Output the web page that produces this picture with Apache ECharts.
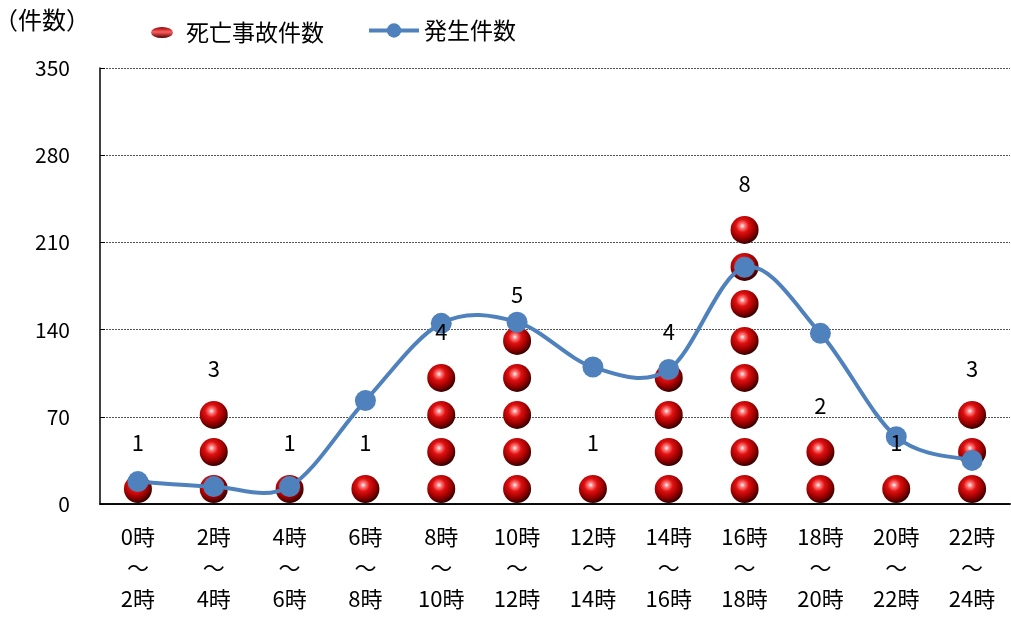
<!DOCTYPE html>
<html><head><meta charset="utf-8">
<script src="https://cdn.jsdelivr.net/npm/echarts@6/dist/echarts.min.js"></script>
<style>html,body{margin:0;padding:0;background:#fff}#c{width:1011px;height:623px}</style>
</head><body><div id="c"></div>
<script>
const categories = ['0時\n～\n2時','2時\n～\n4時','4時\n～\n6時','6時\n～\n8時','8時\n～\n10時','10時\n～\n12時','12時\n～\n14時','14時\n～\n16時','16時\n～\n18時','18時\n～\n20時','20時\n～\n22時','22時\n～\n24時'];
const fatalCounts = [1,3,1,1,4,5,1,4,8,2,1,3];
const occurrences = [18,14,14,83,145,146,110,108,190,137,54,35];
const yTicks = {min:0, max:350, interval:70};

const FONT = '"Noto Sans CJK JP", sans-serif';
const BLUE = '#4f81bd';
const sphere = {
  type:'radial', x:0.42, y:0.36, r:0.66,
  colorStops:[
    {offset:0, color:'#ffffff'},
    {offset:0.13, color:'#ff8080'},
    {offset:0.35, color:'#e01010'},
    {offset:0.68, color:'#990000'},
    {offset:1, color:'#2a0000'}
  ]
};
// Catmull-Rom style smooth curve (like spreadsheet smoothing) through the points, via the axis scales
function smoothPath(api) {
  const pts = occurrences.map((v, i) => api.coord([i, v]));
  let d = 'M' + pts[0][0] + ' ' + pts[0][1];
  for (let i = 0; i < pts.length - 1; i++) {
    const p0 = pts[Math.max(i - 1, 0)], p1 = pts[i], p2 = pts[i + 1], p3 = pts[Math.min(i + 2, pts.length - 1)];
    const c1 = [p1[0] + (p2[0] - p0[0]) / 6, p1[1] + (p2[1] - p0[1]) / 6];
    const c2 = [p2[0] - (p3[0] - p1[0]) / 6, p2[1] - (p3[1] - p1[1]) / 6];
    d += ' C' + c1[0] + ' ' + c1[1] + ' ' + c2[0] + ' ' + c2[1] + ' ' + p2[0] + ' ' + p2[1];
  }
  return d;
}
const chart = echarts.init(document.getElementById('c'), null, {renderer:'canvas'});
chart.setOption({
  animation:false,
  textStyle:{fontFamily:FONT},
  graphic:[{type:'text', left:-6, top:8, style:{text:'（件数）', font:'24px '+FONT, fill:'#000'}}],
  legend:[
    {left:146, top:16, itemWidth:38, itemHeight:11, itemGap:10,
     textStyle:{fontSize:23, color:'#000', fontFamily:FONT},
     data:[{name:'死亡事故件数', icon:'path://M0,50 A100,50 0 1,1 200,50 A100,50 0 1,1 0,50 Z', itemStyle:{color:{type:'linear',x:0,y:0,x2:0,y2:1,colorStops:[{offset:0,color:'#900000'},{offset:0.45,color:'#ff6060'},{offset:1,color:'#500000'}]}}}]},
    {left:362, top:14, itemWidth:50, itemHeight:18, itemGap:10,
     textStyle:{fontSize:23, color:'#000', fontFamily:FONT},
     data:[{name:'発生件数', lineStyle:{color:BLUE, width:4, opacity:1}}]}
  ],
  grid:{left:100, right:1, top:68, bottom:119},
  xAxis:[{
    type:'category', data:categories,
    axisLine:{lineStyle:{color:'#000', width:1.5}},
    axisTick:{inside:true, length:7, lineStyle:{color:'#777', width:1.5}},
    axisLabel:{fontSize:22, color:'#000', lineHeight:31, margin:17, fontFamily:FONT}
  },{
    type:'category', position:'top', data:categories,
    axisLine:{show:true, lineStyle:{color:'#000', width:1.5}},
    axisTick:{show:false}, axisLabel:{show:false}
  }],
  yAxis:[{
    type:'value', min:yTicks.min, max:yTicks.max, interval:yTicks.interval,
    axisLine:{show:true, lineStyle:{color:'#000', width:1.5}},
    axisTick:{show:true, inside:true, length:5, lineStyle:{color:'#000'}},
    axisLabel:{fontSize:21, color:'#000', margin:30, fontFamily:FONT},
    splitLine:{show:true, lineStyle:{color:'#555', type:[2,1], width:1}}
  },{
    type:'value', min:0, max:11.78, show:false, splitLine:{show:false}
  }],
  series:[{
    name:'死亡事故件数', type:'pictorialBar', yAxisIndex:1, xAxisIndex:0,
    data:fatalCounts,
    symbol:'circle', symbolRepeat:true, symbolBoundingData:11,
    symbolSize:[28,28], symbolMargin:'5!', symbolOffset:[0,3.5],
    itemStyle:{color:sphere},
    z:2
  },{
    name:'死亡事故件数ラベル', type:'pictorialBar', yAxisIndex:1, xAxisIndex:0,
    data:fatalCounts, barGap:'-100%',
    symbol:'rect', symbolSize:['100%','100%'],
    itemStyle:{color:'rgba(0,0,0,0)'},
    label:{show:true, position:'top', distance:13, fontSize:22, color:'#000', fontFamily:FONT},
    silent:true, z:6
  },{
    name:'発生件数曲線', type:'custom', data:occurrences,
    renderItem:function(params, api){
      if (params.dataIndex !== 0) return null;
      return {type:'path', shape:{pathData:smoothPath(api)}, style:{fill:'none', stroke:BLUE, lineWidth:4}};
    },
    silent:true, z:3
  },{
    name:'発生件数', type:'line', data:occurrences,
    symbol:'circle', symbolSize:21,
    lineStyle:{color:BLUE, width:4, opacity:0}, itemStyle:{color:BLUE},
    z:4
  }]
});
</script></body></html>
